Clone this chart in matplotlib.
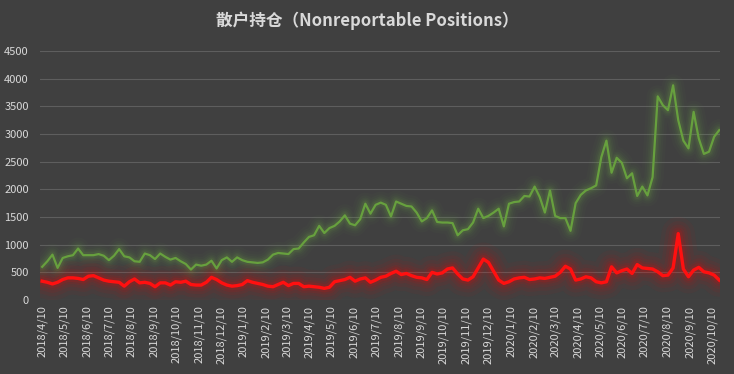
import numpy as np
import pandas as pd
import matplotlib
matplotlib.use("Agg")
import matplotlib.pyplot as plt
import matplotlib.dates as mdates

plt.rcParams['font.family'] = ['Noto Sans CJK SC', 'DejaVu Sans']

# weekly report dates (Tuesdays)
dates = pd.date_range('2018-04-10', periods=133, freq='7D')

# retail traders - long (green) and short (red)
green = [600, 700, 820, 580, 760, 790, 810, 930, 810, 810,
         810, 830, 800, 720, 800, 920, 790, 770, 700, 690,
         840, 810, 740, 840, 780, 730, 760, 700, 650, 550,
         640, 620, 640, 710, 570, 720, 770, 690, 770, 720,
         690, 680, 670, 680, 730, 820, 850, 840, 830, 920,
         930, 1040, 1140, 1170, 1340, 1210, 1300, 1340, 1420, 1530,
         1380, 1350, 1460, 1740, 1560, 1720, 1760, 1720, 1510, 1780,
         1740, 1700, 1690, 1580, 1420, 1480, 1620, 1410, 1400, 1400,
         1390, 1170, 1260, 1280, 1400, 1650, 1480, 1520, 1580, 1650,
         1330, 1740, 1770, 1780, 1880, 1870, 2050, 1860, 1580, 1980,
         1520, 1480, 1480, 1250, 1750, 1900, 1980, 2020, 2070, 2580,
         2880, 2300, 2570, 2480, 2200, 2290, 1880, 2050, 1890, 2220,
         3680, 3520, 3430, 3880, 3250, 2880, 2740, 3400, 2920, 2640,
         2680, 2950, 3070]

red = [340, 320, 290, 320, 370, 400, 400, 390, 370, 430,
       440, 400, 360, 340, 330, 320, 250, 330, 380, 310,
       320, 300, 240, 310, 310, 270, 330, 320, 340, 280,
       270, 270, 320, 410, 370, 310, 270, 250, 260, 280,
       350, 320, 300, 280, 250, 240, 280, 320, 260, 300,
       300, 240, 250, 240, 230, 210, 230, 330, 350, 370,
       410, 340, 380, 400, 320, 360, 410, 430, 480, 520,
       460, 480, 440, 410, 400, 370, 500, 470, 490, 560,
       580, 470, 380, 360, 420, 580, 740, 680, 520, 360,
       300, 330, 380, 400, 410, 370, 380, 400, 390, 410,
       430, 500, 610, 560, 360, 380, 420, 400, 330, 310,
       330, 600, 490, 530, 560, 480, 640, 580, 570, 560,
       510, 440, 450, 580, 1200, 560, 420, 540, 590, 510,
       490, 450, 360]

bg = '#404040'
txt = '#d9d9d9'

fig = plt.figure(figsize=(7.34, 3.74), dpi=100, facecolor=bg)
ax = fig.add_axes([40 / 734, 1 - 300 / 374, 680 / 734, 249 / 374])
ax.set_facecolor(bg)

# soft glow under each line
for w, a in [(16, 0.03), (12, 0.04), (9, 0.05), (6.5, 0.07), (4.5, 0.10)]:
    ax.plot(dates, green, color='#70ad47', lw=w, alpha=a,
            solid_joinstyle='round', solid_capstyle='round')
for w, a in [(24, 0.04), (18, 0.05), (13, 0.06), (9, 0.08), (6, 0.12)]:
    ax.plot(dates, red, color='#ff0000', lw=w, alpha=a,
            solid_joinstyle='round', solid_capstyle='round')
ax.plot(dates, green, color='#67a03e', lw=1.6, solid_joinstyle='round')
ax.plot(dates, red, color='#ff1010', lw=2.4, solid_joinstyle='round')

ax.set_ylim(0, 4500)
ax.set_yticks(np.arange(0, 4501, 500))
ax.grid(axis='y', color='#5e5e5e', lw=0.8)
ax.set_axisbelow(True)

ax.set_xlim(dates[0] - pd.Timedelta(days=3), dates[-1] + pd.Timedelta(days=1))
ax.xaxis.set_major_locator(mdates.MonthLocator(bymonthday=10))
ax.xaxis.set_major_formatter(
    plt.FuncFormatter(lambda v, p: (lambda d: f"{d.year}/{d.month}/{d.day}")(mdates.num2date(v))))

ax.tick_params(axis='both', length=0, colors=txt, labelsize=8)
ax.tick_params(axis='x', pad=4)
ax.tick_params(axis='y', pad=8)
for s in ax.spines.values():
    s.set_visible(False)
plt.setp(ax.get_xticklabels(), rotation=90)

fig.text(0.5, 1 - 21 / 374, '散户持仓（Nonreportable Positions）', ha='center', va='center',
         color=txt, fontsize=12, fontweight='bold')

fig.savefig('out.png', dpi=100, facecolor=bg)
